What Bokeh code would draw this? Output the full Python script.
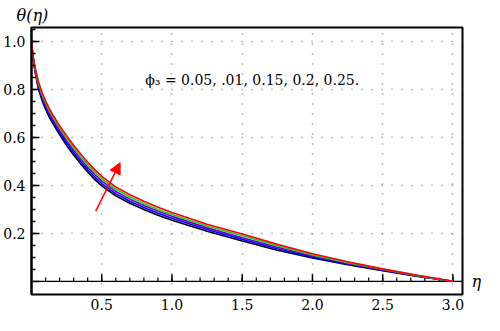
import numpy as np
from bokeh.plotting import figure
from bokeh.models import Range1d, FixedTicker, Label, Arrow, NormalHead, LinearAxis
from bokeh.embed import file_html
from bokeh.resources import INLINE

eta = [0, 0.01, 0.025, 0.05, 0.075, 0.1, 0.125, 0.15, 0.2, 0.25, 0.3, 0.35, 0.4, 0.45, 0.5, 0.6,
       0.7, 0.8, 0.9, 1.0, 1.25, 1.5, 1.75, 2.0, 2.25, 2.5, 2.75, 3.0]
theta_005 = [1.0, 0.935, 0.875, 0.80, 0.755, 0.718, 0.687, 0.66, 0.612, 0.567, 0.527, 0.49, 0.456,
             0.425, 0.398, 0.357, 0.326, 0.30, 0.276, 0.255, 0.209, 0.168, 0.13, 0.097, 0.069,
             0.044, 0.02, 0.0]
theta_010 = [1.0, 0.937, 0.879, 0.807, 0.763, 0.727, 0.696, 0.669, 0.621, 0.577, 0.537, 0.5,
             0.466, 0.435, 0.408, 0.366, 0.334, 0.308, 0.284, 0.263, 0.216, 0.175, 0.136, 0.101,
             0.072, 0.046, 0.021, 0.0]
theta_015 = [1.0, 0.939, 0.883, 0.814, 0.771, 0.735, 0.705, 0.678, 0.63, 0.587, 0.547, 0.51,
             0.476, 0.445, 0.418, 0.375, 0.343, 0.316, 0.292, 0.271, 0.223, 0.182, 0.142, 0.106,
             0.075, 0.048, 0.022, 0.0]
theta_020 = [1.0, 0.941, 0.888, 0.823, 0.78, 0.744, 0.714, 0.687, 0.639, 0.597, 0.558, 0.521,
             0.487, 0.456, 0.428, 0.385, 0.352, 0.325, 0.30, 0.279, 0.231, 0.19, 0.149, 0.11,
             0.078, 0.05, 0.023, 0.0]
theta_025 = [1.0, 0.944, 0.893, 0.832, 0.789, 0.753, 0.723, 0.696, 0.648, 0.607, 0.568, 0.531,
             0.497, 0.466, 0.438, 0.394, 0.361, 0.334, 0.309, 0.287, 0.238, 0.197, 0.155, 0.115,
             0.082, 0.052, 0.025, 0.0]
series = [theta_005, theta_010, theta_015, theta_020, theta_025]
colors = ["black", "#0000ff", "#6a00d0", "#22cc22", "#ff0000"]

x_ticks = [0.5, 1.0, 1.5, 2.0, 2.5, 3.0]
x_labels = ["0.5", "1.0", "1.5", "2.0", "2.5", "3.0"]
y_ticks = [0.2, 0.4, 0.6, 0.8, 1.0]
y_labels = ["0.2", "0.4", "0.6", "0.8", "1.0"]

FONT = "DejaVu Serif"

p = figure(width=484, height=315, output_backend="svg", toolbar_location=None,
           x_range=Range1d(0, 3.068), y_range=Range1d(-0.055, 1.059),
           title="θ(η)",
           min_border_left=29, min_border_right=14, min_border_top=24, min_border_bottom=21)
p.background_fill_color = "white"
p.border_fill_color = "white"
p.outline_line_color = "black"
p.outline_line_width = 2

p.title.align = "left"
p.title.offset = -15
p.title.standoff = 6
p.title.text_font = FONT
p.title.text_font_style = "italic"
p.title.text_font_size = "16px"
p.title.text_color = "black"

xminor = list(np.round(np.arange(0.1, 3.01, 0.1), 2))
yminor = list(np.round(np.arange(0.05, 1.051, 0.05), 2))
p.xaxis.ticker = FixedTicker(ticks=x_ticks + [0.0], minor_ticks=xminor)
p.xaxis.major_label_overrides = {t: l for t, l in zip(x_ticks, x_labels)} | {0.0: ""}
p.xaxis.major_tick_in = 0
p.xaxis.major_tick_out = 0
p.xaxis.minor_tick_in = 0
p.xaxis.minor_tick_out = 0
p.xaxis.axis_line_color = None
p.xaxis.major_label_standoff = 4
p.xaxis.major_label_text_font = FONT
p.xaxis.major_label_text_font_size = "14px"
p.xaxis.major_label_text_color = "black"

p.yaxis.ticker = FixedTicker(ticks=y_ticks + [0.0], minor_ticks=yminor)
p.yaxis.major_label_overrides = {t: l for t, l in zip(y_ticks, y_labels)} | {0.0: ""}
p.yaxis.major_tick_in = 8
p.yaxis.major_tick_out = 0
p.yaxis.minor_tick_in = 4
p.yaxis.minor_tick_out = 0
p.yaxis.major_tick_line_color = "black"
p.yaxis.major_tick_line_width = 1.5
p.yaxis.minor_tick_line_color = "black"
p.yaxis.minor_tick_line_width = 1.5
p.yaxis.axis_line_color = "black"
p.yaxis.axis_line_width = 2
p.yaxis.major_label_standoff = 6
p.yaxis.major_label_text_font = FONT
p.yaxis.major_label_text_font_size = "14px"
p.yaxis.major_label_text_color = "black"

# right-side axis used only to carry the "η" label at theta = 0
eta_axis = LinearAxis(ticker=FixedTicker(ticks=[0.0], minor_ticks=[]),
                      major_label_overrides={0.0: "η"},
                      axis_line_color=None, major_tick_line_color=None,
                      minor_tick_line_color=None, major_label_standoff=3,
                      major_label_text_font=FONT, major_label_text_font_style="italic",
                      major_label_text_font_size="16px", major_label_text_color="black")
p.add_layout(eta_axis, "right")

for g in (p.xgrid, p.ygrid):
    g.grid_line_color = "#777777"
    g.grid_line_width = 1.5
    g.grid_line_dash = "1 9"

p.line([0, 3.068], [0, 0], line_color="black", line_width=1.2)
p.segment(x0=x_ticks, y0=[0] * len(x_ticks), x1=x_ticks, y1=[0.029] * len(x_ticks),
          line_color="black", line_width=1.5)
p.segment(x0=xminor, y0=[0] * len(xminor), x1=xminor, y1=[0.016] * len(xminor),
          line_color="black", line_width=1.2)

for ys, c in zip(series, colors):
    p.line(eta, ys, line_color=c, line_width=1.6)

p.add_layout(Arrow(end=NormalHead(size=11, fill_color="red", line_color="red"),
                   x_start=0.457, y_start=0.293, x_end=0.631, y_end=0.495,
                   line_color="red", line_width=1.5))

p.add_layout(Label(x=0.81, y=0.84, text="ϕ₃ = 0.05, .01, 0.15, 0.2, 0.25.",
                   text_font=FONT, text_font_size="14px", text_color="black",
                   text_baseline="alphabetic"))

open("out.html", "w").write(file_html(p, INLINE))
